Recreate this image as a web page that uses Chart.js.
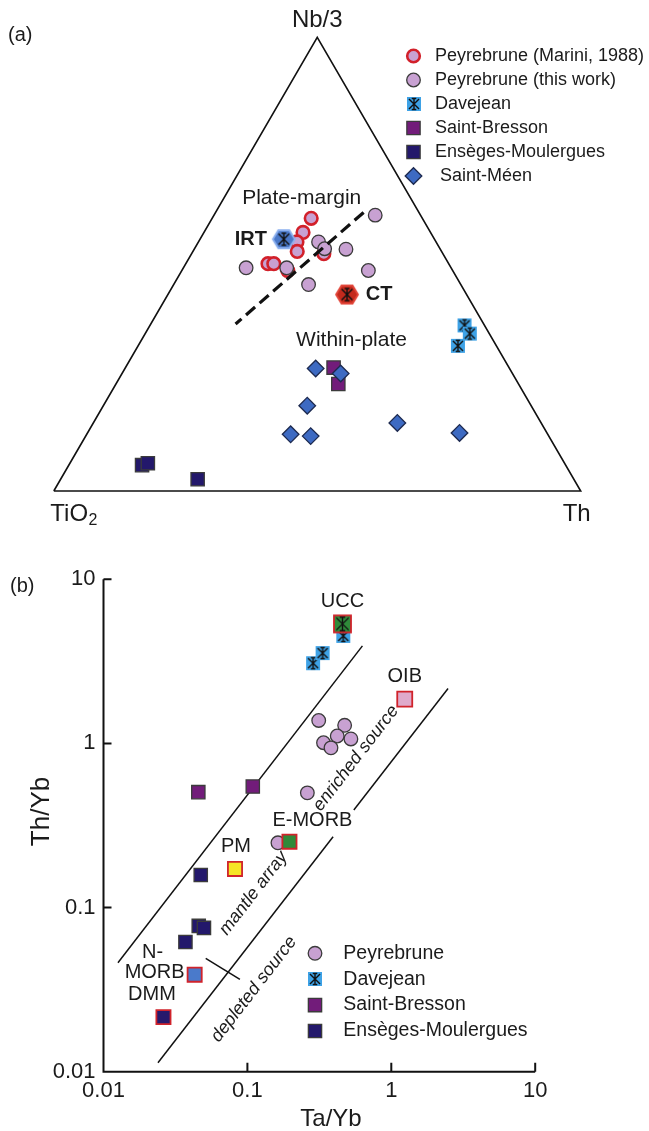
<!DOCTYPE html>
<html lang="en">
<head>
<meta charset="utf-8">
<title>Nb/3-TiO2-Th and Th/Yb vs Ta/Yb</title>
<script src="https://cdn.jsdelivr.net/npm/chart.js@4.4.1/dist/chart.umd.min.js"></script>
<style>
  html, body { margin: 0; padding: 0; background: #fff; }
  #page { position: relative; width: 649px; height: 1131px; overflow: hidden; }
  canvas { position: absolute; left: 0; }
  #ternary { top: 0; }
  #logplot { top: 545px; }
</style>
</head>
<body>
<div id="page">
  <canvas id="ternary" width="649" height="545"></canvas>
  <canvas id="logplot" width="649" height="586"></canvas>
</div>
<script>
// ---------- (a) ternary data, each sample as [TiO2, Nb/3, Th] in % ----------
const peyMarini = [
  [21.1, 60.1, 18.8], [24.2, 57.0, 18.8], [26.4, 54.9, 18.7], [27.4, 52.8, 19.8],
  [22.6, 52.3, 25.1], [34.3, 50.1, 15.6], [33.2, 50.1, 16.7], [31.3, 48.6, 20.1]
];
const peyThisWork = [
  [8.6, 60.8, 30.6], [22.3, 54.9, 22.8], [21.9, 53.4, 24.7], [17.9, 53.3, 28.8],
  [38.9, 49.2, 11.9], [31.2, 49.2, 19.6], [16.0, 48.6, 35.4], [28.9, 45.5, 25.6]
];
const davejeanTer = [[3.8, 36.5, 59.7], [3.7, 34.7, 61.6], [7.3, 32.0, 60.7]];
const bressonTer = [[33.3, 27.2, 39.5], [34.2, 23.6, 42.2]];
const ensegesTer = [[80.4, 5.7, 13.9], [79.1, 6.1, 14.8], [71.4, 2.6, 26.0]];
const meenTer = [
  [36.8, 27.0, 36.2], [32.6, 25.9, 41.5], [42.5, 18.8, 38.7], [48.8, 12.5, 38.7],
  [45.2, 12.1, 42.7], [27.3, 15.0, 57.7], [16.6, 12.8, 70.6]
];
const irtPoint = [[28.6, 55.5, 15.9]];
const ctPoint = [[22.7, 43.3, 34.0]];
const triangleCorners = [[100, 0, 0], [0, 0, 100], [0, 100, 0], [100, 0, 0]];
const marginBoundary = [[10.5, 61.4, 28.1], [47.1, 36.8, 16.1]];

// ---------- (b) Th/Yb vs Ta/Yb ----------
const peyTaYb = [0.313, 0.474, 0.421, 0.524, 0.338, 0.381, 0.261, 0.163];
const peyThYb = [1.38, 1.29, 1.11, 1.065, 1.01, 0.94, 0.50, 0.248];
const davTaYb = [0.286, 0.333, 0.464];
const davThYb = [3.08, 3.55, 4.52];
const bresTaYb = [0.0456, 0.109];
const bresThYb = [0.505, 0.546];
const ensTaYb = [0.0474, 0.0459, 0.0499, 0.0371];
const ensThYb = [0.158, 0.0773, 0.0752, 0.0617];
const refNames = ['UCC', 'OIB', 'E-MORB', 'PM', 'N-MORB', 'DMM'];
const refTaYb = [0.458, 1.24, 0.196, 0.082, 0.043, 0.0261];
const refThYb = [5.35, 1.86, 0.252, 0.172, 0.039, 0.0215];
const arrayUpper = [[0.0126, 0.0461], [0.63, 3.93]];
const arrayLowerA = [[0.0239, 0.01135], [0.394, 0.270]];
const arrayLowerB = [[0.549, 0.393], [2.48, 2.16]];
const sourceTick = [[0.0513, 0.0491], [0.0887, 0.0365]];
const logTicks = [0.01, 0.1, 1, 10];
const logTickLabels = ['0.01', '0.1', '1', '10'];

// ---------- shared drawing bits ----------
const INK = '#1b1b1b';
const FONT = '"Liberation Sans", Arial, sans-serif';
const LILAC = '#c8a1d2';
const REF_EDGE = '#d0232b';
const SIN60 = Math.sqrt(3) / 2;

function toXY([ti, nb, th]) {
  const s = ti + nb + th;
  return { x: (th + nb / 2) / s, y: (nb / s) * SIN60 };
}
const pairs = (xs, ys) => xs.map((v, i) => ({ x: v, y: ys[i] }));
const segment = rows => rows.map(([x, y]) => ({ x, y }));

function write(ctx, text, x, y, size, align = 'center', opt = {}) {
  ctx.save();
  ctx.translate(x, y);
  if (opt.angle) ctx.rotate(opt.angle);
  ctx.font = (opt.italic ? 'italic ' : '') + (opt.bold ? 'bold ' : '') + size + 'px ' + FONT;
  ctx.fillStyle = INK;
  ctx.textAlign = align;
  ctx.textBaseline = 'middle';
  ctx.fillText(text, 0, 0);
  ctx.restore();
}

// black asterisk used on Davejean / reference symbols
function star(g, cx, cy, a) {
  g.strokeStyle = '#111';
  g.lineWidth = 1.4;
  g.beginPath();
  g.moveTo(cx - a, cy - a); g.lineTo(cx + a, cy + a);
  g.moveTo(cx + a, cy - a); g.lineTo(cx - a, cy + a);
  g.moveTo(cx, cy - a * 1.1); g.lineTo(cx, cy + a * 1.1);
  g.moveTo(cx - a * 0.45, cy - a * 1.1); g.lineTo(cx + a * 0.45, cy - a * 1.1);
  g.moveTo(cx - a * 0.45, cy + a * 1.1); g.lineTo(cx + a * 0.45, cy + a * 1.1);
  g.stroke();
}

function starSquare(side, fill, edge) {
  const c = document.createElement('canvas');
  c.width = c.height = side + 4;
  const g = c.getContext('2d');
  g.fillStyle = fill;
  g.fillRect(2, 2, side, side);
  if (edge) { g.strokeStyle = edge; g.lineWidth = 1.8; g.strokeRect(2, 2, side, side); }
  star(g, c.width / 2, c.height / 2, side * 0.36);
  return c;
}

function starHexagon(w, h, fill, edge) {
  const c = document.createElement('canvas');
  c.width = w + 4; c.height = h + 4;
  const g = c.getContext('2d');
  const cx = c.width / 2, cy = c.height / 2;
  g.beginPath();
  g.moveTo(cx - w / 2, cy);
  g.lineTo(cx - w / 4, cy - h / 2);
  g.lineTo(cx + w / 4, cy - h / 2);
  g.lineTo(cx + w / 2, cy);
  g.lineTo(cx + w / 4, cy + h / 2);
  g.lineTo(cx - w / 4, cy + h / 2);
  g.closePath();
  g.fillStyle = fill; g.fill();
  g.strokeStyle = edge; g.lineWidth = 1.8; g.stroke();
  star(g, cx, cy, h * 0.3);
  return c;
}

const mk = {
  marini:   { pointStyle: 'circle', radius: 6.3, fill: LILAC, edge: '#d2202a', width: 2.6 },
  thisWork: { pointStyle: 'circle', radius: 6.8, fill: LILAC, edge: '#3b3b3b', width: 1.3 },
  davejean: { pointStyle: starSquare(14, '#3ea2e6'), radius: 7 },
  bresson:  { pointStyle: 'rect', radius: 9.4, fill: '#721c7a', edge: '#3b3b3b', width: 1.3 },
  enseges:  { pointStyle: 'rect', radius: 9.4, fill: '#23186b', edge: '#3b3b3b', width: 1.3 },
  meen:     { pointStyle: 'rectRot', radius: 8.3, fill: '#3d6ac2', edge: '#1d2a50', width: 1.3 },
  irt:      { pointStyle: starHexagon(22, 18, '#4a78c8', '#8db1ef'), radius: 9 },
  ct:       { pointStyle: starHexagon(22, 18, '#c42a1d', '#e2463a'), radius: 9 }
};

// reference reservoirs in (b): UCC, OIB, E-MORB, PM, N-MORB, DMM
const refStyles = [
  starSquare(17, '#2f8a3a', REF_EDGE), 'rect', 'rect', 'rect', 'rect', 'rect'
];
const refRadius = [8.5, 10.6, 10, 10, 10, 10];
const refFill = ['#2f8a3a', '#dfaacb', '#2f8a3a', '#f6e526', '#4a7acb', '#27196c'];

function pointSet(rows, st, order) {
  return {
    data: rows, showLine: false, order, clip: false,
    pointStyle: st.pointStyle, pointRadius: st.radius,
    pointBackgroundColor: st.fill || 'transparent',
    pointBorderColor: st.edge || 'transparent',
    pointBorderWidth: st.width || 0
  };
}

function lineSet(rows, width, dash, order) {
  return {
    data: rows, showLine: true, pointRadius: 0, fill: false, clip: false,
    borderColor: '#111', borderWidth: width, borderDash: dash || [], order
  };
}

function drawMarker(ctx, st, x, y) {
  if (typeof st.pointStyle !== 'string') {
    const c = st.pointStyle;
    ctx.drawImage(c, Math.round(x - c.width / 2), Math.round(y - c.height / 2));
    return;
  }
  const r = st.radius;
  ctx.save();
  ctx.fillStyle = st.fill;
  ctx.strokeStyle = st.edge;
  ctx.lineWidth = st.width;
  ctx.beginPath();
  if (st.pointStyle === 'circle') {
    ctx.arc(x, y, r, 0, Math.PI * 2);
  } else if (st.pointStyle === 'rect') {
    const h = r * Math.SQRT1_2;
    ctx.rect(x - h, y - h, 2 * h, 2 * h);
  } else {
    ctx.moveTo(x - r, y); ctx.lineTo(x, y - r); ctx.lineTo(x + r, y); ctx.lineTo(x, y + r);
    ctx.closePath();
  }
  ctx.fill();
  ctx.stroke();
  ctx.restore();
}

// ---------- (a) ternary ----------
const fieldLabels = [
  { text: 'Plate-margin', at: [20.7, 64.5, 14.8] },
  { text: 'Within-plate', at: [26.9, 33.2, 39.9] }
];
const legendA = [
  ['Peyrebrune (Marini, 1988)', mk.marini],
  ['Peyrebrune (this work)', mk.thisWork],
  ['Davejean', mk.davejean],
  ['Saint-Bresson', mk.bresson],
  ['Ensèges-Moulergues', mk.enseges],
  [' Saint-Méen', mk.meen]
];

const ternaryText = {
  id: 'ternaryText',
  afterDatasetsDraw(chart) {
    const { ctx, chartArea: a, scales: { x, y } } = chart;
    const px = p => { const q = toXY(p); return [x.getPixelForValue(q.x), y.getPixelForValue(q.y)]; };

    write(ctx, '(a)', 8, 35, 20, 'left');
    write(ctx, 'Nb/3', (a.left + a.right) / 2, a.top - 16.5, 24);
    ctx.save();
    ctx.font = '24px ' + FONT;
    const tiW = ctx.measureText('TiO').width;
    ctx.restore();
    write(ctx, 'TiO', a.left - 3.5, a.bottom + 23, 24, 'left');
    write(ctx, '2', a.left - 3.5 + tiW + 0.5, a.bottom + 30, 16, 'left');
    write(ctx, 'Th', a.right - 4, a.bottom + 23, 24);

    fieldLabels.forEach(f => {
      const [lx, ly] = px(f.at);
      write(ctx, f.text, lx, ly, 21);
    });
    const [ix, iy] = px(irtPoint[0]);
    write(ctx, 'IRT', ix - 33, iy, 20, 'center', { bold: true });
    const [cx, cy] = px(ctPoint[0]);
    write(ctx, 'CT', cx + 32, cy, 20, 'center', { bold: true });

    legendA.forEach(([text, st], i) => {
      const ly = 56 + i * 24;
      drawMarker(ctx, st, 413.5, ly);
      write(ctx, text, 435, ly, 18, 'left');
    });
  }
};

new Chart(document.getElementById('ternary'), {
  type: 'scatter',
  data: {
    datasets: [
      lineSet(triangleCorners.map(toXY), 1.6, null, 20),
      lineSet(marginBoundary.map(toXY), 3.2, [12, 6], 0),
      pointSet(peyMarini.map(toXY), mk.marini, 6),
      pointSet(peyThisWork.map(toXY), mk.thisWork, 5),
      pointSet(irtPoint.map(toXY), mk.irt, 4),
      pointSet(ctPoint.map(toXY), mk.ct, 4),
      pointSet(davejeanTer.map(toXY), mk.davejean, 4),
      pointSet(bressonTer.map(toXY), mk.bresson, 5),
      pointSet(ensegesTer.map(toXY), mk.enseges, 4),
      pointSet(meenTer.map(toXY), mk.meen, 3)
    ]
  },
  options: {
    responsive: false,
    animation: false,
    events: [],
    layout: { padding: { left: 53.8, right: 68.3, top: 37.3, bottom: 54 } },
    scales: {
      x: { type: 'linear', min: 0, max: 1, display: false },
      y: { type: 'linear', min: 0, max: SIN60, display: false }
    },
    plugins: { legend: { display: false }, tooltip: { enabled: false } }
  },
  plugins: [ternaryText]
});

// ---------- (b) log-log ----------
const sourceNotes = [
  { text: 'enriched source', ta: 0.568, th: 0.812 },
  { text: 'mantle array', ta: 0.1103, th: 0.1222 },
  { text: 'depleted source', ta: 0.1111, th: 0.0318 }
];
const refLabelShift = [[0, -22], [0, -23], [23, -21], [1, -22], [-41, -22], [-11.5, -23]];
const legendB = [
  ['Peyrebrune', mk.thisWork],
  ['Davejean', mk.davejean],
  ['Saint-Bresson', mk.bresson],
  ['Ensèges-Moulergues', mk.enseges]
];

const logAxes = {
  id: 'logAxes',
  beforeDatasetsDraw(chart) {
    const { ctx, chartArea: a, scales: { x, y } } = chart;
    ctx.save();
    ctx.strokeStyle = '#111';
    ctx.lineWidth = 2;
    ctx.beginPath();
    ctx.moveTo(a.left, a.top);
    ctx.lineTo(a.left, a.bottom);
    ctx.lineTo(a.right, a.bottom);
    logTicks.forEach(v => {
      const tx = x.getPixelForValue(v);
      ctx.moveTo(tx, a.bottom); ctx.lineTo(tx, a.bottom - 9);
      const ty = y.getPixelForValue(v);
      ctx.moveTo(a.left, ty); ctx.lineTo(a.left + 8, ty);
    });
    ctx.stroke();
    ctx.restore();
  },
  afterDatasetsDraw(chart) {
    const { ctx, chartArea: a, scales: { x, y } } = chart;
    logTicks.forEach((v, i) => {
      write(ctx, logTickLabels[i], a.left - 8, y.getPixelForValue(v), 22, 'right');
      write(ctx, logTickLabels[i], x.getPixelForValue(v), a.bottom + 19, 22);
    });
    write(ctx, 'Ta/Yb', 331, a.bottom + 47.5, 24);
    write(ctx, 'Th/Yb', a.left - 62, (a.top + a.bottom) / 2 - 14, 26, 'center', { angle: -Math.PI / 2 });
    write(ctx, '(b)', 10, 41.7, 20, 'left');

    refNames.forEach((name, i) => {
      const mx = x.getPixelForValue(refTaYb[i]);
      const my = y.getPixelForValue(refThYb[i]);
      const [dx, dy] = refLabelShift[i];
      if (name === 'N-MORB') {
        write(ctx, 'N-', mx + dx - 1, my + dy, 20);
        write(ctx, 'MORB', mx + dx + 1, my + dy + 20, 20);
      } else {
        write(ctx, name, mx + dx, my + dy, 20);
      }
    });

    const [p1, p2] = arrayUpper;
    const ang = Math.atan2(y.getPixelForValue(p2[1]) - y.getPixelForValue(p1[1]),
                           x.getPixelForValue(p2[0]) - x.getPixelForValue(p1[0]));
    sourceNotes.forEach(n => {
      write(ctx, n.text, x.getPixelForValue(n.ta), y.getPixelForValue(n.th), 18, 'center',
            { italic: true, angle: ang });
    });

    legendB.forEach(([text, st], i) => {
      const ly = 408.3 + i * 25.9;
      drawMarker(ctx, st, 315, ly);
      write(ctx, text, 343.3, ly, 19.5, 'left');
    });
  }
};

new Chart(document.getElementById('logplot'), {
  type: 'scatter',
  data: {
    datasets: [
      lineSet(segment(arrayUpper), 1.5, null, 10),
      lineSet(segment(arrayLowerA), 1.5, null, 10),
      lineSet(segment(arrayLowerB), 1.5, null, 10),
      lineSet(segment(sourceTick), 1.5, null, 10),
      pointSet(pairs(peyTaYb, peyThYb), mk.thisWork, 5),
      pointSet(pairs(davTaYb, davThYb), mk.davejean, 5),
      pointSet(pairs(bresTaYb, bresThYb), mk.bresson, 5),
      pointSet(pairs(ensTaYb, ensThYb), mk.enseges, 5),
      {
        data: pairs(refTaYb, refThYb), showLine: false, order: 1, clip: false,
        pointStyle: refStyles, pointRadius: refRadius,
        pointBackgroundColor: refFill, pointBorderColor: REF_EDGE, pointBorderWidth: 1.8
      }
    ]
  },
  options: {
    responsive: false,
    animation: false,
    events: [],
    layout: { padding: { left: 103.5, right: 113.8, top: 34.3, bottom: 59.3 } },
    scales: {
      x: { type: 'logarithmic', min: 0.01, max: 10, display: false },
      y: { type: 'logarithmic', min: 0.01, max: 10, display: false }
    },
    plugins: { legend: { display: false }, tooltip: { enabled: false } }
  },
  plugins: [logAxes]
});
</script>
</body>
</html>
